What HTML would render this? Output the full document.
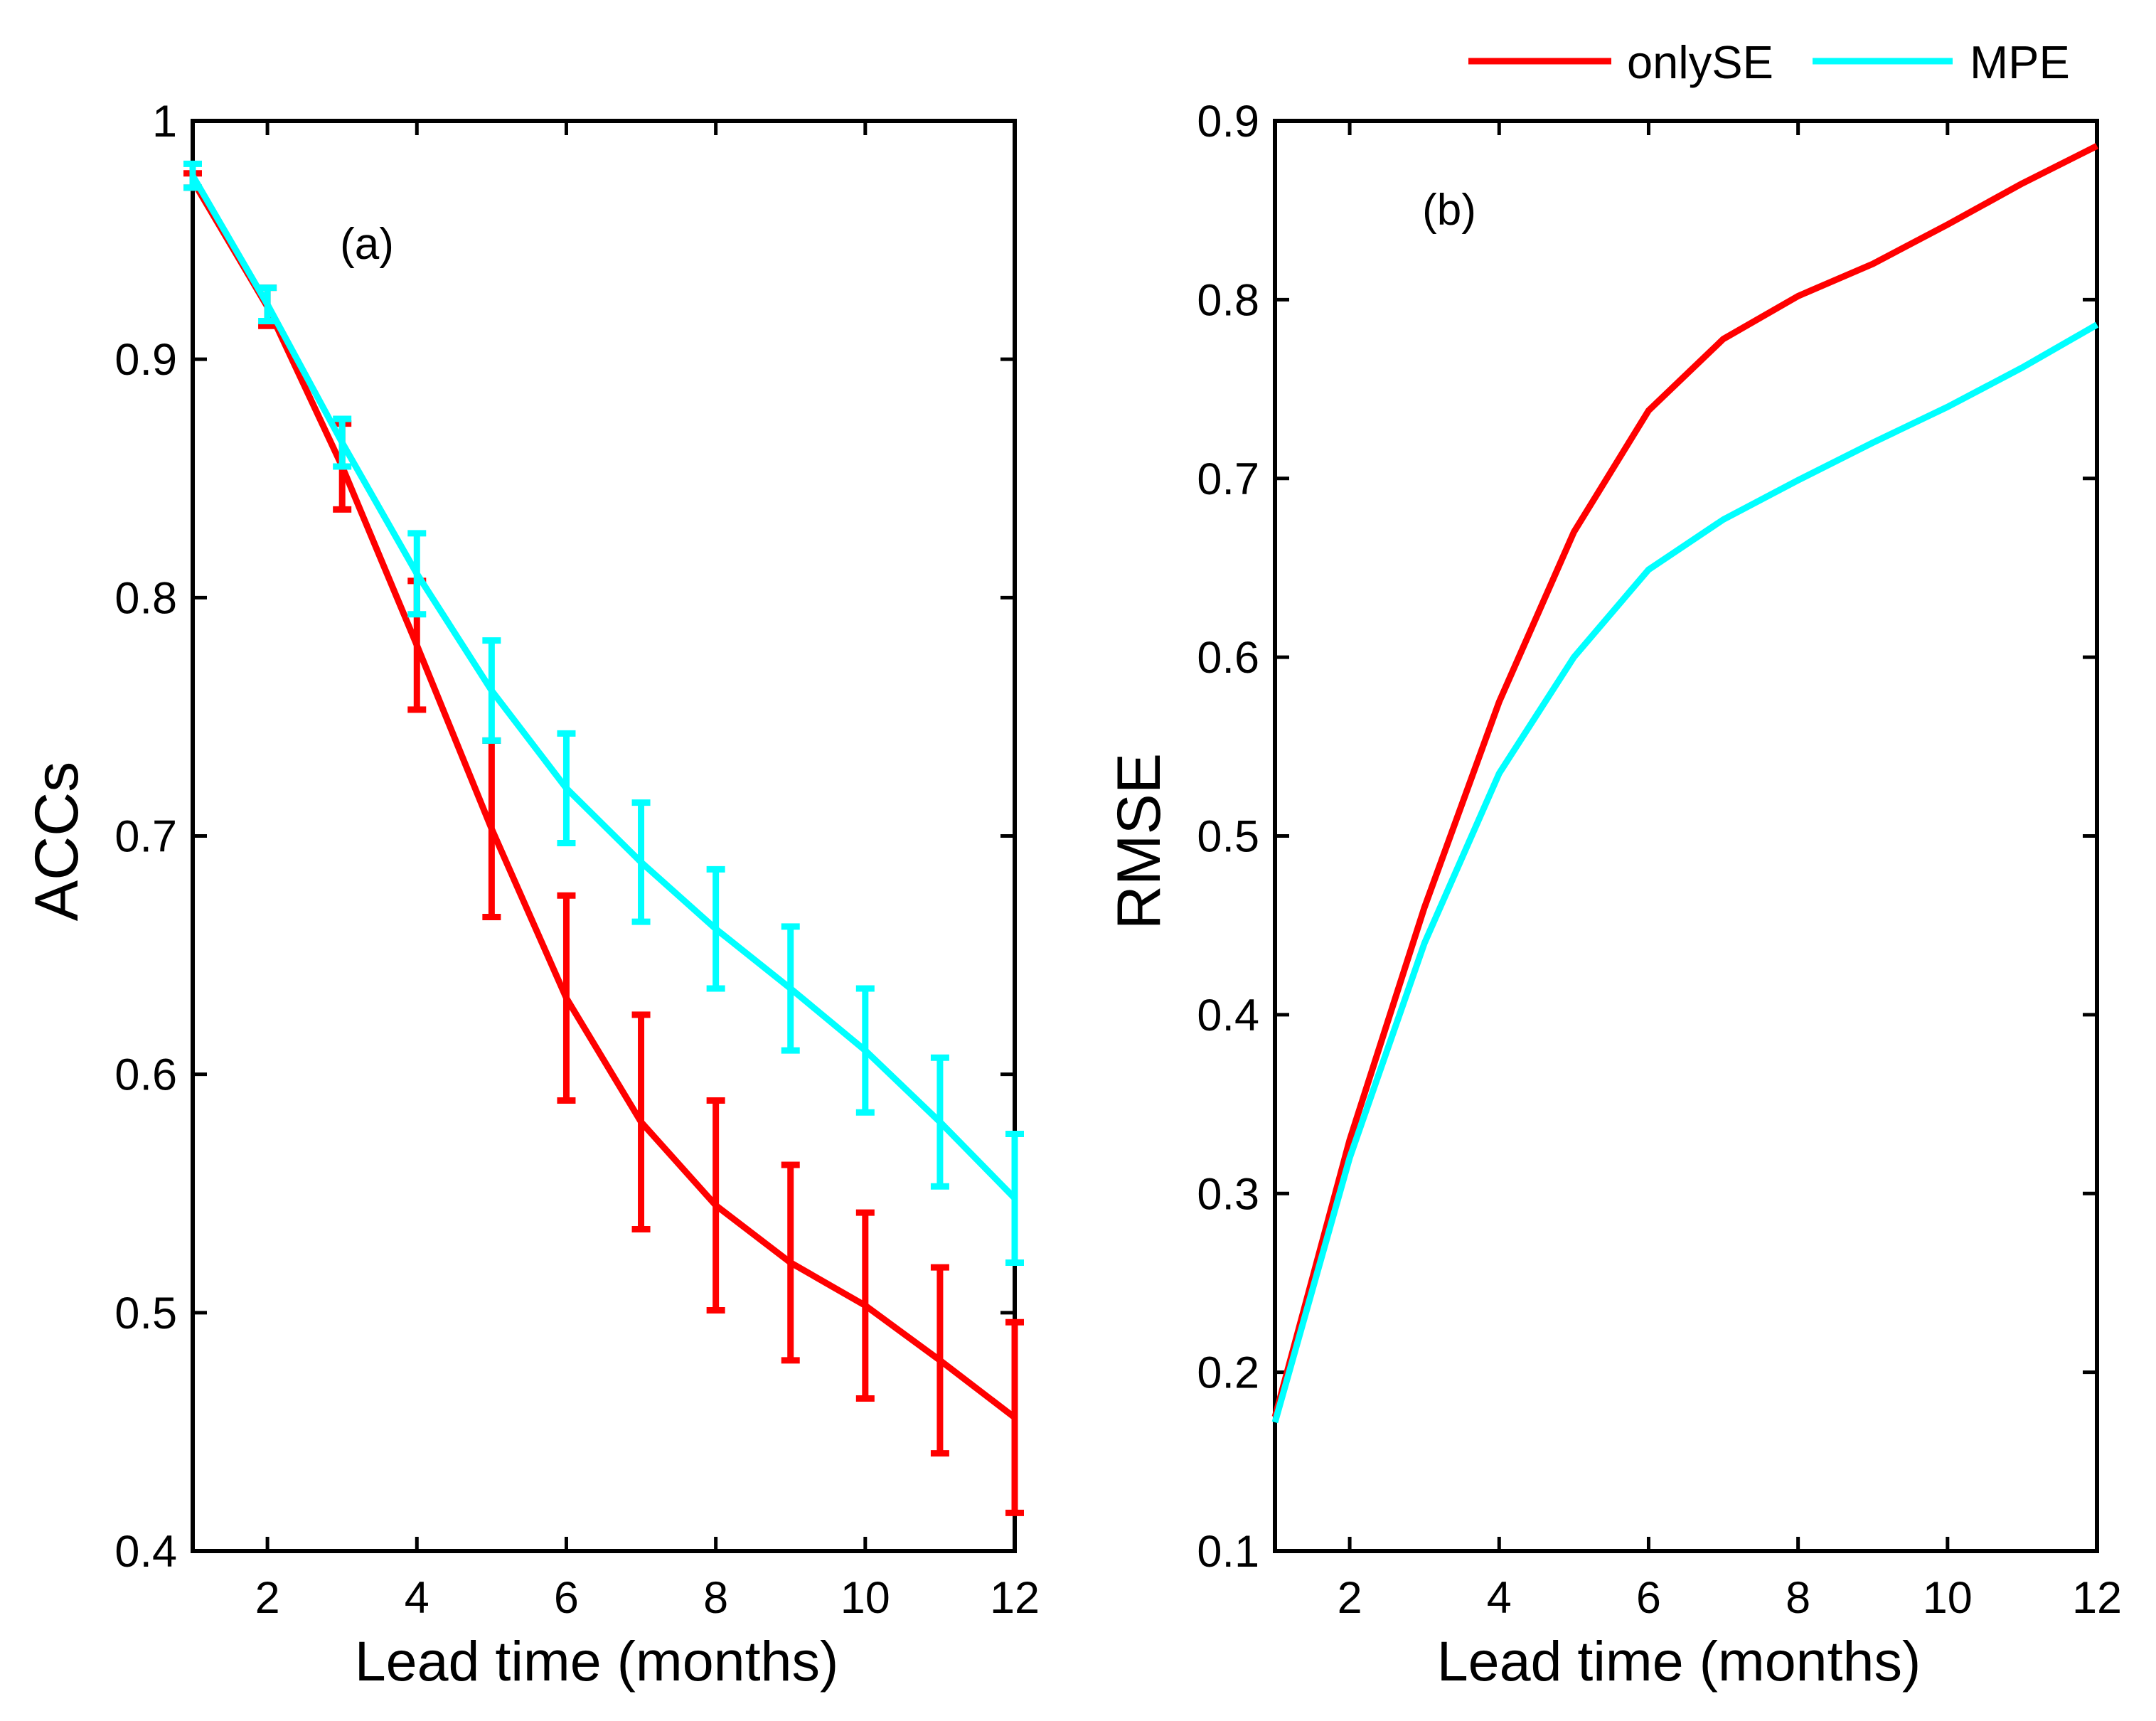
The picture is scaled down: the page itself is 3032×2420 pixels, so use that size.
<!DOCTYPE html>
<html><head><meta charset="utf-8"><style>
html,body{margin:0;padding:0;background:#fff}
svg{display:block;font-family:"Liberation Sans",Arial,sans-serif}
</style></head><body>
<svg id="chart" width="3032" height="2420" viewBox="0 0 3032 2420" xmlns="http://www.w3.org/2000/svg"></svg>
<script>
const leadTimes=[1,2,3,4,5,6,7,8,9,10,11,12];
const accOnlySE=[0.975,0.922,0.855,0.78,0.703,0.632,0.58,0.545,0.521,0.503,0.48,0.456];
const accOnlySEErr=[0.003,0.008,0.018,0.027,0.037,0.043,0.045,0.044,0.041,0.039,0.039,0.04];
const accMPE=[0.977,0.923,0.865,0.81,0.761,0.72,0.689,0.661,0.636,0.61,0.58,0.548];
const accMPEErr=[0.005,0.007,0.01,0.017,0.021,0.023,0.025,0.025,0.026,0.026,0.027,0.027];
const rmseOnlySE=[0.175,0.33,0.46,0.575,0.67,0.738,0.778,0.802,0.82,0.842,0.865,0.886];
const rmseMPE=[0.172,0.32,0.44,0.535,0.6,0.649,0.677,0.699,0.72,0.74,0.762,0.786];
const xTicks=[2,4,6,8,10,12];
const accTicks=[0.4,0.5,0.6,0.7,0.8,0.9,1];
const accTickLabels=["0.4","0.5","0.6","0.7","0.8","0.9","1"];
const rmseTicks=[0.1,0.2,0.3,0.4,0.5,0.6,0.7,0.8,0.9];
const rmseTickLabels=["0.1","0.2","0.3","0.4","0.5","0.6","0.7","0.8","0.9"];

const NS="http://www.w3.org/2000/svg";
const svg=document.getElementById('chart');
function mk(tag,attrs,parent){const e=document.createElementNS(NS,tag);for(const k in attrs)e.setAttribute(k,attrs[k]);(parent||svg).appendChild(e);return e;}
const B=2181;
function panel(name,x0,x1,ymin,ymax,ticks,labels,ylabel,letter,lx,ly){
  const g=mk('g',{});
  
  
  const X=v=>x0+(v-1)/11*(x1-x0);
  const Y=v=>B-(v-ymin)/(ymax-ymin)*(B-170);
  const frame=mk('rect',{x:x0,y:170,width:x1-x0,height:B-170,fill:'none',stroke:'#000','stroke-width':6},g);
  
  
  xTicks.forEach(t=>{
    mk('line',{x1:X(t),x2:X(t),y1:B,y2:B-20,stroke:'#000','stroke-width':5},g);
    mk('line',{x1:X(t),x2:X(t),y1:170,y2:190,stroke:'#000','stroke-width':5},g);
    const tx=mk('text',{x:X(t),y:2268,'font-size':63,'text-anchor':'middle'},g);
    tx.textContent=t;
    
    
  });
  ticks.forEach((t,i)=>{
    mk('line',{x1:x0,x2:x0+20,y1:Y(t),y2:Y(t),stroke:'#000','stroke-width':5},g);
    mk('line',{x1:x1,x2:x1-20,y1:Y(t),y2:Y(t),stroke:'#000','stroke-width':5},g);
    const tx=mk('text',{x:x0-22,y:Y(t)+22,'font-size':63,'text-anchor':'end'},g);
    tx.textContent=labels[i];
    
    
  });
  const xl=mk('text',{x:(x0+x1)/2-10,y:2363,'font-size':79,'text-anchor':'middle'},g);
  xl.textContent='Lead time (months)';
  
  
  const yx=x0-162;
  const yl=mk('text',{x:yx,y:1183,'font-size':86,'text-anchor':'middle',transform:`rotate(-90 ${yx} 1183)`},g);
  yl.textContent=ylabel;
  
  
  const pl=mk('text',{x:lx,y:ly,'font-size':62,'text-anchor':'middle'},g);
  pl.textContent=letter;
  
  
  return {g,X,Y};
}
function series(p,vals,errs,color,name){
  const pts=leadTimes.map((t,i)=>p.X(t)+','+p.Y(vals[i])).join(' ');
  const l=mk('polyline',{points:pts,fill:'none',stroke:color,'stroke-width':9,'stroke-linejoin':'round'},p.g);
  
  
  if(errs){
    leadTimes.forEach((t,i)=>{
      const x=p.X(t),y1=p.Y(vals[i]+errs[i]),y2=p.Y(vals[i]-errs[i]);
      const e=mk('path',{d:`M${x} ${y1}V${y2}M${x-13} ${y1}H${x+13}M${x-13} ${y2}H${x+13}`,stroke:color,'stroke-width':9,fill:'none'},p.g);
      
      
    });
  }
}
const pa=panel('panel-a-acc',271,1427,0.4,1,accTicks,accTickLabels,'ACCs','(a)',516,364);
series(pa,accOnlySE,accOnlySEErr,'#ff0000','acc-onlyse');
series(pa,accMPE,accMPEErr,'#00ffff','acc-mpe');
const pb=panel('panel-b-rmse',1793,2949,0.1,0.9,rmseTicks,rmseTickLabels,'RMSE','(b)',2038,316);
series(pb,rmseOnlySE,null,'#ff0000','rmse-onlyse');
series(pb,rmseMPE,null,'#00ffff','rmse-mpe');

const lg=mk('g',{});


const e1=mk('line',{x1:2065,x2:2266,y1:86,y2:86,stroke:'#ff0000','stroke-width':9},lg);


const t1=mk('text',{x:2288,y:110,'font-size':65},lg);t1.textContent='onlySE';


const e2=mk('line',{x1:2549,x2:2746,y1:86,y2:86,stroke:'#00ffff','stroke-width':9},lg);


const t2=mk('text',{x:2770,y:110,'font-size':65},lg);t2.textContent='MPE';


</script>
</body></html>
